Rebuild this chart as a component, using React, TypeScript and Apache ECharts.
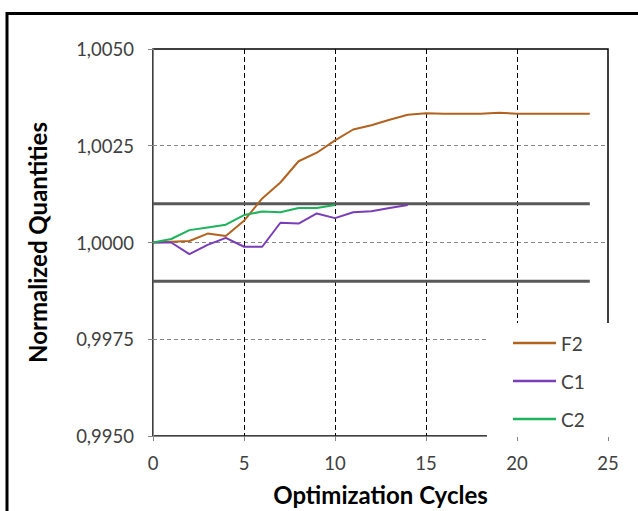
import React, { useEffect, useRef } from "react";
import * as echarts from "echarts";

const seriesNames = ["F2", "C1", "C2"];
const f2Values = [1.0, 1.00002, 1.00004, 1.00023, 1.00017, 1.00056, 1.00114, 1.00155, 1.0021, 1.00232, 1.00264, 1.00292, 1.00303, 1.00317, 1.0033, 1.00334, 1.00333, 1.00333, 1.00333, 1.00335, 1.00333, 1.00333, 1.00333, 1.00333, 1.00333];
const c1Values = [1.0, 1.0, 0.9997, 0.99994, 1.00012, 0.99989, 0.99989, 1.00051, 1.00049, 1.00075, 1.00063, 1.00078, 1.00081, 1.00089, 1.00097];
const c2Values = [1.0, 1.00009, 1.00032, 1.00039, 1.00046, 1.00071, 1.0008, 1.00078, 1.00089, 1.00089, 1.00097];
const upperLimit = 1.001;
const lowerLimit = 0.999;
const limitRange = [0, 24];
const xTicks = [0, 5, 10, 15, 20, 25];
const yTicks = [0.995, 0.9975, 1.0, 1.0025, 1.005];

const colors = ["#B2621F", "#7A3DB8", "#1DB35C"];
const FONT = "Lato";

export default function App() {
  const ref = useRef<HTMLDivElement>(null);
  useEffect(() => {
    if (!ref.current) return;
    const chart = echarts.init(ref.current, undefined, { renderer: "svg" });
    const toPairs = (arr: number[]) => arr.map((v, i) => [i, v]);
    const lines = [f2Values, c1Values, c2Values].map((vals, k) => ({
      name: seriesNames[k],
      type: "line",
      data: toPairs(vals),
      symbol: "none",
      showSymbol: false,
      lineStyle: { color: colors[k], width: 2 },
      itemStyle: { color: colors[k] },
      z: 5,
    }));
    const limits = [upperLimit, lowerLimit].map((v, k) => ({
      name: "limit" + k,
      type: "line",
      data: limitRange.map((x) => [x, v]),
      symbol: "none",
      showSymbol: false,
      lineStyle: { color: "#595959", width: 3 },
      z: 3,
      silent: true,
    }));
    chart.setOption({
      animation: false,
      backgroundColor: "#fff",
      textStyle: { fontFamily: FONT },
      grid: {
        left: 153,
        top: 49,
        right: 30,
        bottom: 73,
        show: true,
        borderColor: "#000",
        borderWidth: 1.5,
        backgroundColor: "transparent",
      },
      graphic: [
        {
          type: "rect",
          shape: { x: 7, y: 13.5, width: 700, height: 600 },
          style: { fill: "none", stroke: "#000", lineWidth: 3 },
          silent: true,
        },
      ],
      legend: {
        data: seriesNames,
        orient: "vertical",
        left: 487,
        top: 323,
        padding: [10, 25, 8, 26],
        itemGap: 18,
        itemWidth: 43,
        itemHeight: 2.5,
        icon: "rect",
        backgroundColor: "#fff",
        textStyle: { fontFamily: FONT, fontSize: 19, color: "#404040", lineHeight: 20 },
      },
      xAxis: {
        type: "value",
        min: xTicks[0],
        max: xTicks[xTicks.length - 1],
        interval: xTicks[1] - xTicks[0],
        name: "Optimization Cycles",
        nameLocation: "middle",
        nameGap: 46,
        nameTextStyle: { fontFamily: FONT, fontSize: 24, fontWeight: "bold", color: "#000" },
        axisLine: { show: true, lineStyle: { color: "#868686", width: 1 } },
        axisTick: { show: true, length: 5, lineStyle: { color: "#868686" } },
        axisLabel: { fontFamily: FONT, fontSize: 18.5, color: "#404040", margin: 17 },
        splitLine: {
          show: true,
          lineStyle: { color: ["transparent", "#000", "#000", "#000", "#000", "transparent"], type: [5, 3], width: 1 },
        },
      },
      yAxis: {
        type: "value",
        min: yTicks[0],
        max: yTicks[yTicks.length - 1],
        interval: 0.0025,
        name: "Normalized Quantities",
        nameLocation: "middle",
        nameGap: 104,
        nameRotate: 90,
        nameTextStyle: { fontFamily: FONT, fontSize: 24, fontWeight: "bold", color: "#000" },
        axisLine: { show: true, lineStyle: { color: "#868686", width: 1 } },
        axisTick: { show: true, length: 5, lineStyle: { color: "#868686" } },
        axisLabel: {
          fontFamily: FONT,
          fontSize: 18.5,
          color: "#404040",
          margin: 19,
          formatter: (v: number) => v.toFixed(4).replace(".", ","),
        },
        splitLine: {
          show: true,
          lineStyle: { color: ["transparent", "#868686", "#868686", "#868686", "transparent"], type: [4, 3], width: 1 },
        },
      },
      series: [...limits, ...lines],
    });
    return () => chart.dispose();
  }, []);
  return <div ref={ref} style={{ position: "fixed", left: 0, top: 0, width: 638, height: 511 }} />;
}
